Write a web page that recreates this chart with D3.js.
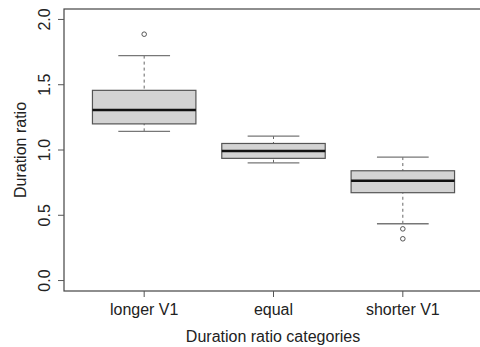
<!DOCTYPE html>
<html>
<head>
<meta charset="utf-8">
<script src="https://cdn.jsdelivr.net/npm/d3@7"></script>
<style>
  body { margin: 0; background: #fff; }
  text { font-family: "Liberation Sans", Arial, sans-serif; fill: #222; }
</style>
</head>
<body>
<svg width="480" height="347"></svg>
<script>
// box stats
var categories = ["longer V1", "equal", "shorter V1"];
var lowWhisker = [1.143, 0.902, 0.435];
var q1 = [1.20, 0.936, 0.673];
var medians = [1.306, 0.992, 0.765];
var q3 = [1.457, 1.05, 0.841];
var highWhisker = [1.723, 1.107, 0.946];
var outliers = [[1.887], [], [0.396, 0.32]];
var yTicks = [0, 0.5, 1.0, 1.5, 2.0];

var svg = d3.select("svg");

// plot region (R style, right edge runs off the picture)
var plotLeft = 64, plotTop = 9, plotBottom = 291, plotRight = 483;

var x = d3.scaleLinear().domain([0.38, 3.62]).range([plotLeft, plotRight]);
var y = d3.scaleLinear().domain([-0.08, 2.08]).range([plotBottom, plotTop]);

var unit = x(2) - x(1);
var boxW = 0.8 * unit;
var capW = 0.4 * unit;

var data = categories.map(function (c, i) {
    return {cat: c, pos: i + 1, lo: lowWhisker[i], q1: q1[i], med: medians[i],
            q3: q3[i], hi: highWhisker[i], out: outliers[i]};
});

var g = svg.append("g");

// whiskers (dashed)
g.selectAll("line.wlo").data(data).enter().append("line")
    .attr("x1", d => x(d.pos)).attr("x2", d => x(d.pos))
    .attr("y1", d => y(d.lo)).attr("y2", d => y(d.q1))
    .attr("stroke", "#666").attr("stroke-dasharray", "3,3");
g.selectAll("line.whi").data(data).enter().append("line")
    .attr("x1", d => x(d.pos)).attr("x2", d => x(d.pos))
    .attr("y1", d => y(d.hi)).attr("y2", d => y(d.q3))
    .attr("stroke", "#666").attr("stroke-dasharray", "3,3");

// caps
g.selectAll("line.clo").data(data).enter().append("line")
    .attr("x1", d => x(d.pos) - capW / 2).attr("x2", d => x(d.pos) + capW / 2)
    .attr("y1", d => y(d.lo)).attr("y2", d => y(d.lo))
    .attr("stroke", "#777").attr("stroke-width", 1.3);
g.selectAll("line.chi").data(data).enter().append("line")
    .attr("x1", d => x(d.pos) - capW / 2).attr("x2", d => x(d.pos) + capW / 2)
    .attr("y1", d => y(d.hi)).attr("y2", d => y(d.hi))
    .attr("stroke", "#777").attr("stroke-width", 1.3);

// boxes
g.selectAll("rect").data(data).enter().append("rect")
    .attr("x", d => x(d.pos) - boxW / 2)
    .attr("width", boxW)
    .attr("y", d => y(d.q3))
    .attr("height", d => y(d.q1) - y(d.q3))
    .attr("fill", "#d3d3d3")
    .attr("stroke", "#555").attr("stroke-width", 1.2);

// medians
g.selectAll("line.med").data(data).enter().append("line")
    .attr("x1", d => x(d.pos) - boxW / 2).attr("x2", d => x(d.pos) + boxW / 2)
    .attr("y1", d => y(d.med)).attr("y2", d => y(d.med))
    .attr("stroke", "#111").attr("stroke-width", 2.6);

// outliers
data.forEach(function (d) {
    g.selectAll(null).data(d.out).enter().append("circle")
        .attr("cx", x(d.pos)).attr("cy", v => y(v))
        .attr("r", 2.3)
        .attr("fill", "none").attr("stroke", "#555").attr("stroke-width", 1);
});

// frame
svg.append("rect")
    .attr("x", plotLeft).attr("y", plotTop)
    .attr("width", plotRight - plotLeft).attr("height", plotBottom - plotTop)
    .attr("fill", "none").attr("stroke", "#444").attr("stroke-width", 1.2);

// y axis
var yAxis = svg.append("g").attr("transform", "translate(" + plotLeft + ",0)");
yAxis.selectAll("line").data(yTicks).enter().append("line")
    .attr("x1", 0).attr("x2", -6)
    .attr("y1", d => y(d)).attr("y2", d => y(d))
    .attr("stroke", "#555");
yAxis.selectAll("text").data(yTicks).enter().append("text")
    .attr("transform", d => "translate(-14," + y(d) + ") rotate(-90)")
    .attr("text-anchor", "middle")
    .style("font-size", "16px")
    .text(d => d3.format(".1f")(d));

// x axis
var xAxis = svg.append("g").attr("transform", "translate(0," + plotBottom + ")");
xAxis.selectAll("line").data(data).enter().append("line")
    .attr("x1", d => x(d.pos)).attr("x2", d => x(d.pos))
    .attr("y1", 0).attr("y2", 6)
    .attr("stroke", "#555");
xAxis.selectAll("text").data(data).enter().append("text")
    .attr("x", d => x(d.pos)).attr("y", 24)
    .attr("text-anchor", "middle")
    .style("font-size", "16px")
    .text(d => d.cat);

// titles
svg.append("text")
    .attr("x", 273).attr("y", 342)
    .attr("text-anchor", "middle")
    .style("font-size", "16px")
    .text("Duration ratio categories");
svg.append("text")
    .attr("transform", "translate(26," + ((plotTop + plotBottom) / 2) + ") rotate(-90)")
    .attr("text-anchor", "middle")
    .style("font-size", "16px")
    .text("Duration ratio");
</script>
</body>
</html>
